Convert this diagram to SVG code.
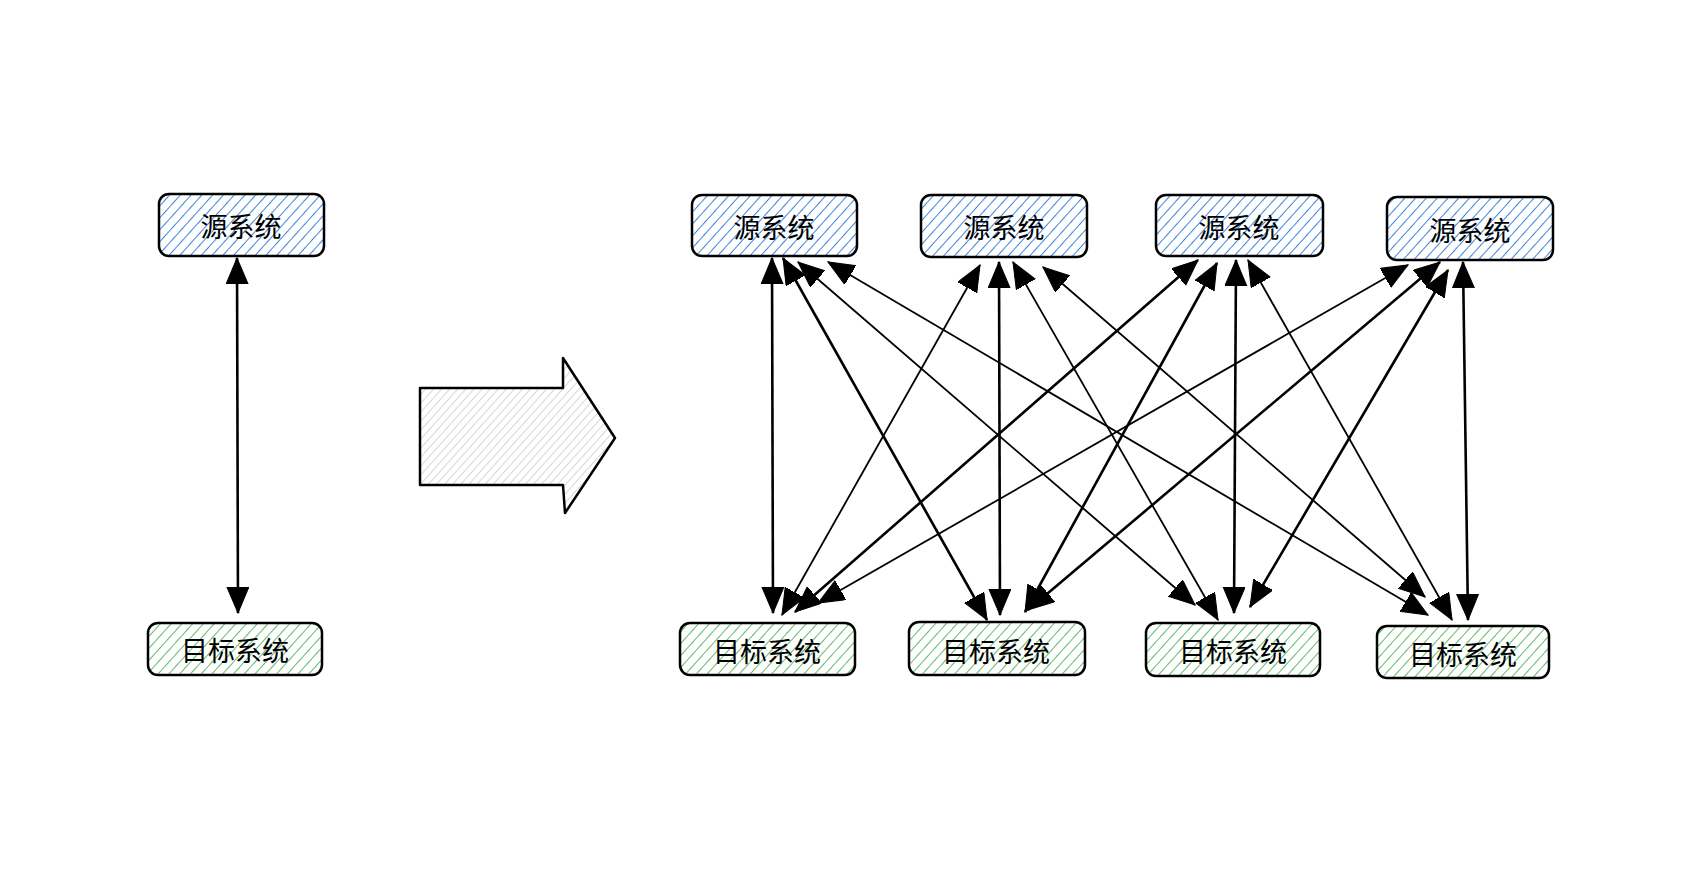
<svg xmlns="http://www.w3.org/2000/svg" width="1686" height="876" viewBox="0 0 1686 876">
<style>
.box{stroke:#000000;stroke-width:2.5;}
.src{fill:url(#hBlue);}
.tgt{fill:url(#hGreen);}
.lbl{font-family:"Noto Sans CJK SC","Noto Sans",sans-serif;font-size:27px;fill:#000000;text-anchor:middle;dominant-baseline:central;}
.c{stroke:#000000;stroke-width:1.8;fill:none;marker-start:url(#ah);marker-end:url(#ah);}
.c2{stroke-width:2.6;}
</style>
<defs>
<pattern id="hBlue" patternUnits="userSpaceOnUse" width="8" height="8" patternTransform="rotate(42)">
<line x1="0" y1="0" x2="0" y2="8" stroke="#3f86dd" stroke-width="2"/>
</pattern>
<pattern id="hGreen" patternUnits="userSpaceOnUse" width="8" height="8" patternTransform="rotate(42)">
<line x1="0" y1="0" x2="0" y2="8" stroke="#62bb68" stroke-width="2"/>
</pattern>
<pattern id="hGray" patternUnits="userSpaceOnUse" width="6" height="6" patternTransform="rotate(42)">
<line x1="0" y1="0" x2="0" y2="6" stroke="#c4c9cf" stroke-width="1.5"/>
</pattern>
<marker id="ah" markerUnits="userSpaceOnUse" markerWidth="28" markerHeight="24" refX="26" refY="11" orient="auto-start-reverse">
<path d="M0,0 L26,11 L0,22 Z" fill="#000000" stroke="#000000" stroke-width="1"/>
</marker>
</defs>
<rect width="1686" height="876" fill="#ffffff"/>

<g id="left-src"><rect class="box src" x="159" y="194" width="165" height="62" rx="10"/><text class="lbl" x="241" y="225">源系统</text></g>
<g id="left-tgt"><rect class="box tgt" x="148" y="623" width="174" height="52" rx="10"/><text class="lbl" x="235" y="649">目标系统</text></g>

<g id="big-arrow"><polygon points="420,388 563,388 563,358 615,438 565,513 563,485 420,485" fill="url(#hGray)" stroke="#000000" stroke-width="2.5" stroke-linejoin="round"/></g>

<g id="s1"><rect class="box src" x="692" y="195" width="165" height="61" rx="10"/><text class="lbl" x="774" y="226">源系统</text></g>
<g id="s2"><rect class="box src" x="921" y="195" width="166" height="62" rx="10"/><text class="lbl" x="1004" y="226">源系统</text></g>
<g id="s3"><rect class="box src" x="1156" y="195" width="167" height="61" rx="10"/><text class="lbl" x="1239" y="226">源系统</text></g>
<g id="s4"><rect class="box src" x="1387" y="197" width="166" height="63" rx="10"/><text class="lbl" x="1470" y="229">源系统</text></g>

<g id="t1"><rect class="box tgt" x="680" y="623" width="175" height="52" rx="10"/><text class="lbl" x="767" y="650">目标系统</text></g>
<g id="t2"><rect class="box tgt" x="909" y="622" width="176" height="53" rx="10"/><text class="lbl" x="996" y="650">目标系统</text></g>
<g id="t3"><rect class="box tgt" x="1146" y="623" width="174" height="53" rx="10"/><text class="lbl" x="1233" y="650">目标系统</text></g>
<g id="t4"><rect class="box tgt" x="1377" y="626" width="172" height="52" rx="10"/><text class="lbl" x="1463" y="653">目标系统</text></g>

<g id="connectors">
<line class="c c2" x1="237" y1="258" x2="238" y2="613"/>
<line class="c c2" x1="772" y1="258" x2="773" y2="613"/>
<line class="c c2" x1="783" y1="258" x2="987" y2="620"/>
<line class="c" x1="798" y1="262" x2="1195" y2="605"/>
<line class="c" x1="828" y1="262" x2="1428" y2="615"/>
<line class="c" x1="980" y1="265" x2="782" y2="615"/>
<line class="c c2" x1="999" y1="262" x2="1000" y2="615"/>
<line class="c" x1="1013" y1="262" x2="1218" y2="620"/>
<line class="c" x1="1043" y1="267" x2="1425" y2="597"/>
<line class="c c2" x1="1198" y1="260" x2="795" y2="612"/>
<line class="c c2" x1="1217" y1="263" x2="1025" y2="612"/>
<line class="c c2" x1="1236" y1="260" x2="1234" y2="613"/>
<line class="c" x1="1248" y1="260" x2="1452" y2="620"/>
<line class="c" x1="1408" y1="265" x2="818" y2="603"/>
<line class="c c2" x1="1440" y1="262" x2="1028" y2="610"/>
<line class="c c2" x1="1448" y1="270" x2="1250" y2="607"/>
<line class="c c2" x1="1463" y1="262" x2="1468" y2="620"/>
</g>
</svg>
